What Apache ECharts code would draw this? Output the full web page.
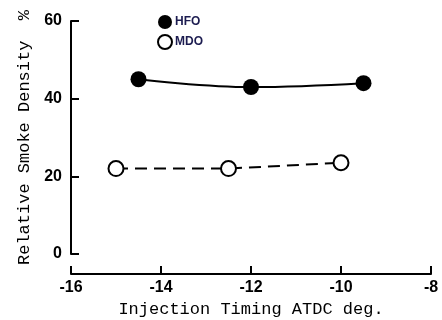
<!DOCTYPE html>
<html>
<head>
<meta charset="utf-8">
<script src="https://cdn.jsdelivr.net/npm/echarts@6/dist/echarts.min.js"></script>
<style>
  html, body { margin: 0; padding: 0; background: #fff; }
  #chart { width: 442px; height: 320px; }
</style>
</head>
<body>
<div id="chart"></div>
<script>
// data
var hfoX = [-14.5, -12, -9.5];
var hfoY = [45, 43, 44];
var mdoX = [-15, -12.5, -10];
var mdoY = [22, 22, 23.5];
var xTicks = [-16, -14, -12, -10, -8];
var yTicks = [0, 20, 40, 60];

function pairs(xs, ys) {
	return xs.map(function (x, i) { return [x, ys[i]]; });
}

var tickFont = {
	color: '#000',
	fontFamily: '"Liberation Sans", Arial, sans-serif',
	fontWeight: 'bold',
	fontSize: 16
};

var myChart = echarts.init(document.getElementById('chart'));
myChart.setOption({
	animation: false,
	backgroundColor: '#fff',
	grid: { left: 71, right: 11, top: 21, bottom: 66, outerBoundsMode: 'none', containLabel: false },
	legend: {
		orient: 'vertical',
		left: 152,
		top: 10,
		itemWidth: 14,
		itemHeight: 14,
		itemGap: 5,
		textStyle: {
			color: '#1c1c50',
			fontFamily: '"Liberation Sans", Arial, sans-serif',
			fontWeight: 'bold',
			fontSize: 12,
			padding: [0, 0, 0, -2]
		},
		data: [
			{ name: 'HFO', icon: 'circle', itemStyle: { color: '#000', borderWidth: 0 } },
			{ name: 'MDO', icon: 'circle', itemStyle: { color: '#fff', borderColor: '#000', borderWidth: 2 } }
		]
	},
	xAxis: {
		type: 'value',
		min: xTicks[0],
		max: xTicks[xTicks.length - 1],
		interval: 2,
		offset: 20,
		name: 'Injection Timing ATDC deg.',
		nameLocation: 'middle',
		nameGap: 24,
		nameTextStyle: {
			color: '#000',
			fontFamily: '"Liberation Mono", "Courier New", monospace',
			fontSize: 17
		},
		axisLine: { onZero: false, lineStyle: { color: '#000', width: 2 } },
		axisTick: { inside: true, length: 8, lineStyle: { color: '#000', width: 2 } },
		axisLabel: Object.assign({ margin: 6 }, tickFont),
		splitLine: { show: false }
	},
	yAxis: {
		type: 'value',
		min: yTicks[0],
		max: yTicks[yTicks.length - 1],
		interval: 20,
		name: 'Relative Smoke Density  %',
		nameLocation: 'middle',
		nameGap: 37,
		nameTextStyle: {
			color: '#000',
			fontFamily: '"Liberation Mono", "Courier New", monospace',
			fontSize: 17
		},
		axisLine: { show: true, lineStyle: { color: '#000', width: 2 } },
		axisTick: { show: true, inside: true, length: 8, lineStyle: { color: '#000', width: 2 } },
		axisLabel: Object.assign({ margin: 9 }, tickFont),
		splitLine: { show: false }
	},
	series: [
		{
			name: 'HFO',
			type: 'line',
			smooth: 0.4,
			data: pairs(hfoX, hfoY),
			symbol: 'circle',
			symbolSize: 16,
			itemStyle: { color: '#000' },
			lineStyle: { color: '#000', width: 2 }
		},
		{
			name: 'MDO',
			type: 'line',
			data: pairs(mdoX, mdoY),
			symbol: 'emptyCircle',
			symbolSize: 15,
			itemStyle: { color: '#000', borderWidth: 1.5 },
			lineStyle: { color: '#000', width: 2, type: [12, 7] }
		}
	]
});
</script>
</body>
</html>
